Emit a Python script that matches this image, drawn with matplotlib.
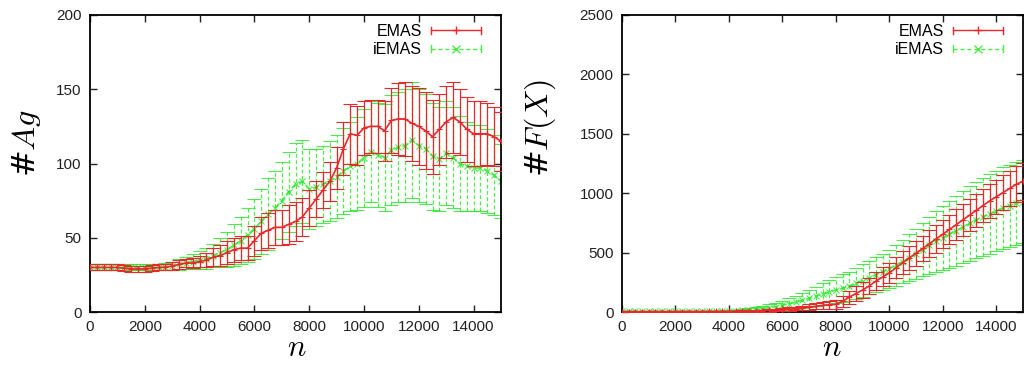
import numpy as np
import matplotlib
matplotlib.use("Agg")
import matplotlib.pyplot as plt
from matplotlib.lines import Line2D
from matplotlib.legend_handler import HandlerBase

plt.rcParams['font.family'] = ['Liberation Sans', 'DejaVu Sans']
plt.rcParams['mathtext.fontset'] = 'cm'

n = np.arange(0, 15001, 250)

ag_emas = [30, 30, 30, 30, 30, 29.5, 29, 29, 29, 29.5, 30, 30, 31, 32, 33, 33,
           34, 35, 37, 38, 40, 42, 43, 43, 48, 53, 55, 57, 57, 59, 61, 64,
           70, 76, 82, 88, 97, 110, 120, 119, 124, 125, 125, 122, 129, 130,
           130, 127, 125, 122, 118, 123, 128, 131, 128, 123, 120, 120, 120, 118, 115]
ag_emas_err = [2, 2, 2, 2, 2, 2, 2, 2, 2, 2, 2, 2, 2.5, 3, 3, 3.5,
               4, 5, 6, 7, 8, 8, 8, 8, 10, 11, 12, 12, 12, 13, 13, 13,
               12, 12, 12, 13, 14, 18, 20, 20, 18, 18, 18, 20, 22, 24,
               25, 25, 26, 26, 25, 24, 24, 24, 22, 22, 22, 22, 21, 20, 20]
ag_iemas = [30, 30, 30, 30, 30, 30, 30, 30, 30, 30, 30, 30.5, 31, 32, 33, 34,
            35, 36, 38, 40, 42, 45, 48, 52, 56, 61, 66, 70, 75, 81, 86, 88,
            83, 84, 86, 88, 91, 95, 98, 100, 104, 108, 106, 104, 109, 111,
            112, 116, 112, 110, 105, 103, 107, 104, 100, 98, 97, 97, 95, 92, 88]
ag_iemas_err = [2, 2, 2, 2, 2, 2, 2, 2, 2, 2, 2, 2.5, 3, 3.5, 4, 5,
                6, 7, 8, 10, 12, 14, 16, 18, 20, 22, 24, 25, 26, 27, 28, 28,
                27, 26, 26, 27, 28, 29, 30, 31, 33, 34, 35, 36, 37, 37,
                38, 39, 38, 37, 36, 35, 35, 34, 32, 30, 29, 29, 28, 27, 25]

fx_emas = [3, 3, 3, 3, 3, 3, 3, 3, 4, 4, 4, 4, 4, 5, 5, 5,
           5, 6, 7, 8, 10, 12, 14, 17, 20, 24, 29, 35, 42, 48, 55, 60,
           65, 90, 125, 155, 185, 220, 260, 295, 330, 372, 415, 455, 495, 535,
           575, 615, 655, 695, 735, 775, 815, 855, 895, 935, 970, 1005, 1040, 1075, 1100]
fx_emas_err = [5, 5, 5, 5, 5, 5, 5, 5, 5, 5, 5, 5, 5, 5, 5, 5,
               5, 5.5, 6, 7, 8, 9, 10, 11, 12, 14, 16, 19, 22, 26, 30, 35,
               40, 48, 55, 60, 65, 70, 75, 80, 85, 90, 95, 100, 105, 108,
               112, 116, 120, 124, 128, 132, 135, 138, 140, 143, 145, 148, 150, 152, 155]
fx_iemas = [5, 5, 5, 5, 5, 5, 5, 5, 5, 5, 5, 5, 5, 5, 5, 6,
            8, 10, 13, 17, 22, 28, 36, 45, 56, 68, 82, 98, 115, 133, 150, 168,
            185, 200, 215, 240, 265, 290, 315, 340, 365, 395, 425, 455, 490, 525,
            560, 595, 625, 655, 685, 715, 745, 775, 800, 825, 850, 875, 895, 915, 930]
fx_iemas_err = [5, 5, 5, 5, 5, 5, 5, 5, 5, 5, 5, 5, 5, 5, 5, 6,
                8, 10, 12, 15, 18, 23, 28, 34, 40, 47, 55, 62, 70, 80, 90, 100,
                110, 118, 125, 130, 135, 140, 145, 152, 160, 172, 185, 198, 210, 225,
                240, 255, 270, 283, 295, 305, 315, 323, 330, 335, 340, 343, 345, 348, 350]

labels = ["EMAS", "iEMAS"]
xticks = list(range(0, 14001, 2000))

RED = "#e8282a"
GREEN = "#2ee82e"


class ErrHandler(HandlerBase):
    def __init__(self, color, ls, marker, alpha=1.0):
        super().__init__()
        self.color, self.ls, self.marker, self.alpha = color, ls, marker, alpha

    def create_artists(self, legend, orig_handle, xdescent, ydescent,
                       width, height, fontsize, trans):
        y = height / 2 - ydescent
        x0, x1 = -xdescent, width - xdescent
        h = height * 0.3
        kw = dict(color=self.color, lw=1.0, alpha=self.alpha, transform=trans)
        arts = [Line2D([x0, x1], [y, y], ls=self.ls, **kw),
                Line2D([x0, x0], [y - h, y + h], **kw),
                Line2D([x1, x1], [y - h, y + h], **kw),
                Line2D([(x0 + x1) / 2], [y], marker=self.marker, ms=6, mew=1.0,
                       ls='none', **kw)]
        return arts


fig = plt.figure(figsize=(10.24, 3.67), dpi=100)
ax1 = fig.add_axes([90/1024, 55/367, 411/1024, 297/367])
ax2 = fig.add_axes([622/1024, 55/367, 401/1024, 297/367])


def draw(ax, e_mean, e_err, i_mean, i_err, ymax, ystep, ylabel,
         axw, ylab_xy, xlab_x):
    r = ax.errorbar(n, e_mean, yerr=e_err, color=RED, lw=1.2, elinewidth=0.9,
                    capsize=5, capthick=0.9, marker='+', ms=4, mew=0.8,
                    label=labels[0], zorder=3)
    g = ax.errorbar(n, i_mean, yerr=i_err, color=GREEN, lw=1.2, ls='--',
                    elinewidth=0.9, capsize=5, capthick=0.9, marker='x', ms=4,
                    mew=0.8, label=labels[1], zorder=2, alpha=0.85)
    for c in g[2]:
        c.set_linestyle((0, (3, 2)))
    ax.set_xlim(0, 15000)
    ax.set_ylim(0, ymax)
    ax.set_xticks(xticks)
    ax.set_yticks(np.arange(0, ymax + 1, ystep))
    ax.tick_params(direction='in', top=True, right=True, length=5, width=1,
                   labelsize=11, colors='#222222', pad=6)
    for s in ax.spines.values():
        s.set_linewidth(1.3)
    ax.set_xlabel(r'$n$', fontsize=22)
    ax.xaxis.set_label_coords(xlab_x, -0.07)
    ax.set_ylabel(ylabel, fontsize=23, family='DejaVu Serif')
    ax.yaxis.set_label_coords(*ylab_xy)
    ax.legend([r, g], labels, loc='upper right',
              bbox_to_anchor=(1 - 20 / axw, 1 - 9 / 297),
              frameon=False, markerfirst=False, fontsize=11.5,
              handlelength=3.1, borderpad=0, borderaxespad=0,
              labelspacing=0.2, handletextpad=0.6,
              handler_map={r: ErrHandler(RED, '-', '+'),
                           g: ErrHandler(GREEN, (0, (3, 2)), 'x', 0.85)})


draw(ax1, ag_emas, ag_emas_err, ag_iemas, ag_iemas_err, 200, 50, r'#$Ag$',
     411, (-0.115, 0.57), 0.504)
draw(ax2, fx_emas, fx_emas_err, fx_iemas, fx_iemas_err, 2500, 500, r'#$F(X)$',
     401, (-0.16, 0.62), 0.524)

fig.savefig("out.png", dpi=100)
